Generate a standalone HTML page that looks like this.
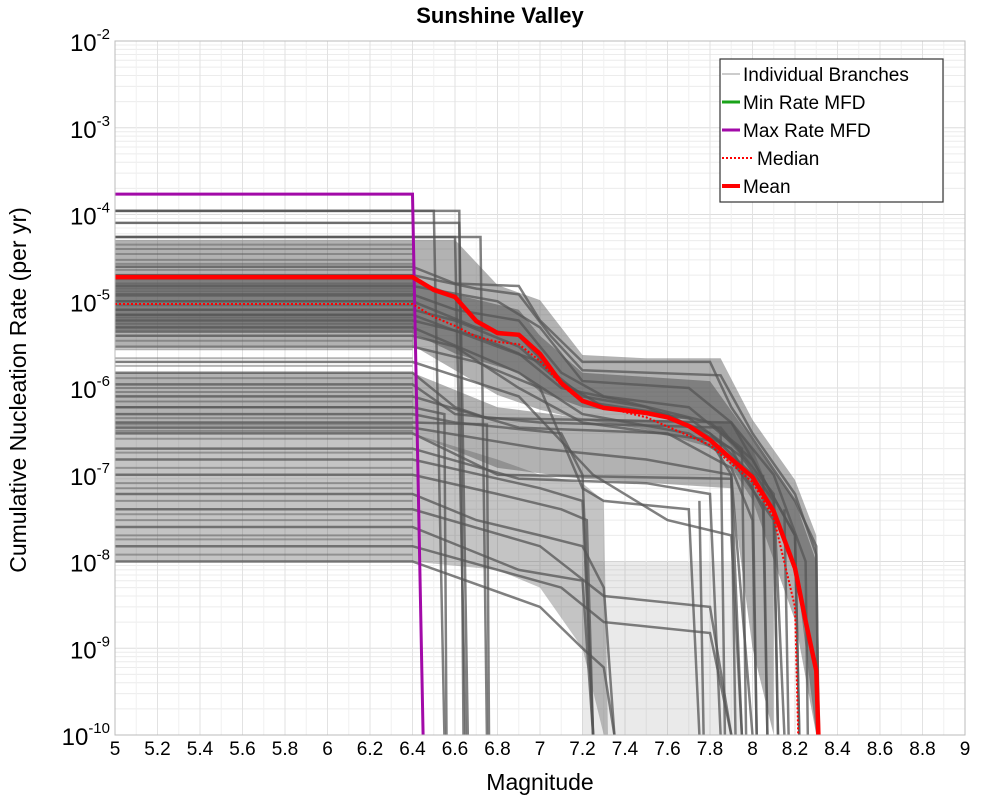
<!DOCTYPE html>
<html><head><meta charset="utf-8"><style>
body{margin:0;background:#fff;}
svg{display:block;font-family:"Liberation Sans","DejaVu Sans",sans-serif;}
</style></head><body>
<svg id="chart" width="1000" height="800" viewBox="0 0 1000 800">
<defs><clipPath id="plotclip"><rect x="115" y="41" width="850" height="694"/></clipPath></defs>
<rect x="0" y="0" width="1000" height="800" fill="#fff"/>
<text x="500" y="23" text-anchor="middle" font-size="22" font-weight="bold">Sunshine Valley</text>
<g id="grid"></g>
<g id="series" clip-path="url(#plotclip)"></g>
<rect x="115" y="41" width="850" height="694" fill="none" stroke="#bbb" stroke-width="1"/>
<g id="xticks"></g>
<g id="yticks"></g>
<text x="540" y="790" text-anchor="middle" font-size="23">Magnitude</text>
<text transform="translate(26,390) rotate(-90)" text-anchor="middle" font-size="23">Cumulative Nucleation Rate (per yr)</text>
<g>
<rect x="720" y="59" width="223" height="143" fill="#fff" stroke="#333" stroke-width="1.2"/>
<g><line x1="722" y1="74" x2="740" y2="74" stroke="#999" stroke-width="1"/><text x="743" y="81" font-size="19">Individual Branches</text></g>
<g><line x1="722" y1="102" x2="740" y2="102" stroke="#1aa31a" stroke-width="3"/><text x="743" y="109" font-size="19">Min Rate MFD</text></g>
<g><line x1="722" y1="130" x2="740" y2="130" stroke="#a20aa8" stroke-width="3"/><text x="743" y="137" font-size="19">Max Rate MFD</text></g>
<g><line x1="722" y1="158" x2="752" y2="158" stroke="#f00" stroke-width="2" stroke-dasharray="2,2"/><text x="757" y="165" font-size="19">Median</text></g>
<g><line x1="722" y1="186" x2="740" y2="186" stroke="#f00" stroke-width="4"/><text x="743" y="193" font-size="19">Mean</text></g>
</g>
</svg>
<script>
const xTicks=[5,5.2,5.4,5.6,5.8,6,6.2,6.4,6.6,6.8,7,7.2,7.4,7.6,7.8,8,8.2,8.4,8.6,8.8,9];
const yExps=[-2,-3,-4,-5,-6,-7,-8,-9,-10];
const meanMags=[5,6.4,6.5,6.6,6.7,6.8,6.9,7.0,7.1,7.2,7.3,7.5,7.6,7.7,7.8,7.9,8.0,8.1,8.2,8.25,8.3,8.31];
const meanRates=[1.9e-5,1.9e-5,1.35e-5,1.12e-5,5.9e-6,4.3e-6,4.1e-6,2.47e-6,1.14e-6,7.1e-7,5.9e-7,5.15e-7,4.6e-7,3.65e-7,2.52e-7,1.52e-7,9.4e-8,3.8e-8,8.4e-9,2.06e-9,5.5e-10,1e-10];
const medianMags=[5,6.4,6.5,6.6,6.7,6.8,6.9,7.0,7.1,7.2,7.5,7.8,8.0,8.1,8.2,8.215];
const medianRates=[9.3e-6,9.3e-6,6.6e-6,5.2e-6,3.9e-6,3.4e-6,3.2e-6,2.05e-6,1.08e-6,6.9e-7,4.6e-7,2.2e-7,8.2e-8,3.2e-8,3.0e-9,1e-10];
const maxMags=[5,6.4,6.45];
const maxRates=[1.72e-4,1.72e-4,1e-10];
// envelope bands of the branch mass
const mainBandMags=[5,6.4,6.6,6.8,7.0,7.2,7.5,7.85,8.0,8.2,8.3,8.32];
const mainBandHi=[5.1e-5,5.1e-5,5.1e-5,1.54e-5,1.03e-5,2.4e-6,2.2e-6,2.2e-6,4.3e-7,8.7e-8,2.0e-8,1e-10];
const mainBandLo=[3.1e-6,3.1e-6,1.6e-6,8.3e-7,5.6e-7,4.3e-7,3.3e-7,1.93e-7,5.1e-8,2.1e-9,1e-10,1e-10];
const coreBandMags=[5,6.4,6.6,6.9,7.0,7.2,7.8,8.0,8.2,8.3];
const coreBandHi=[1.8e-5,1.8e-5,1.2e-5,8e-6,4e-6,1.5e-6,1.2e-6,2.5e-7,5e-8,1e-8];
const coreBandLo=[4.3e-6,4.3e-6,2.5e-6,1.5e-6,9e-7,6e-7,4e-7,1.2e-7,1e-8,1e-10];
const midBandMags=[5,6.4,6.8,7.2,7.9,8.0,8.1];
const midBandHi=[1.5e-6,1.5e-6,6e-7,4.5e-7,4e-7,2e-7,5e-8];
const midBandLo=[3e-7,3e-7,1.2e-7,9e-8,7e-8,1e-9,1e-10];
const lowBandMags=[5,6.4,6.8,7.0,7.2,7.3,7.32];
const lowBandHi=[3e-7,3e-7,1.5e-7,1e-7,8e-8,5e-8,1e-10];
const lowBandLo=[1e-8,1e-8,8e-9,5e-9,1e-9,1e-10,1e-10];
const faintBandMags=[7.2,7.5,7.9,7.95];
const faintBandHi=[1e-8,1e-8,1e-8,1e-10];
const faintBandLo=[1e-10,1e-10,1e-10,1e-10];
const flatLevels=[1.1e-4,8e-5,5.5e-5,4.5e-5,4e-5,3.5e-5,3e-5,2.7e-5,2.3e-5,2e-5,1.8e-5,1.6e-5,1.4e-5,1.3e-5,1.15e-5,1e-5,9e-6,8e-6,7e-6,6.5e-6,5.5e-6,4.5e-6,3.5e-6,2.8e-6,2.2e-6,1.8e-6,1.3e-6,1e-6,9e-7,7e-7,6e-7,4.5e-7,3.8e-7,3.2e-7,2.6e-7,1.8e-7,1.2e-7,8e-8,7e-8,5e-8,3.5e-8,3e-8,2e-8,1.8e-8,1.2e-8];
const branches=[
[[5,1.1e-4],[6.62,1.1e-4],[6.64,1e-10]],
[[5,1.1e-4],[6.5,1.1e-4],[6.55,1e-10]],
[[5,8e-5],[6.62,8e-5],[6.66,1e-10]],
[[5,5.5e-5],[6.72,5.5e-5],[6.75,1e-10]],
[[5,5.5e-5],[6.6,5.5e-5],[6.65,1e-10]],
[[5,2.5e-5],[6.4,2.5e-5],[6.6,1.6e-5],[6.9,1.5e-5],[7.0,6e-6],[7.2,2e-6],[7.8,2e-6],[7.9,6e-7],[8.2,5e-8],[8.3,1.5e-8],[8.31,1e-10]],
[[5,2e-5],[6.4,2e-5],[6.7,1.4e-5],[6.9,1.2e-5],[7.05,4e-6],[7.2,1.6e-6],[7.85,1.4e-6],[8.0,3e-7],[8.2,6e-8],[8.3,1.2e-8],[8.31,1e-10]],
[[5,1.5e-5],[6.4,1.5e-5],[6.8,1e-5],[7.0,5e-6],[7.2,1.2e-6],[7.7,1e-6],[7.9,4e-7],[8.1,1e-7],[8.25,1e-8],[8.26,1e-10]],
[[5,1.2e-5],[6.4,1.2e-5],[6.6,8e-6],[6.9,6e-6],[7.1,1.5e-6],[7.3,8e-7],[7.7,6e-7],[8.0,1.5e-7],[8.2,2e-8],[8.22,1e-10]],
[[5,1e-5],[6.4,1e-5],[6.7,5e-6],[6.9,4e-6],[7.1,1.2e-6],[7.3,6e-7],[7.7,4.5e-7],[7.95,1.6e-7],[8.1,5e-8],[8.12,1e-10]],
[[5,8e-6],[6.4,8e-6],[6.6,6e-6],[6.9,3e-6],[7.2,7e-7],[7.6,5e-7],[7.9,2e-7],[8.05,4e-8],[8.07,1e-10]],
[[5,7e-6],[6.4,7e-6],[6.8,3e-6],[7.0,2e-6],[7.2,8e-7],[7.5,6e-7],[7.8,3e-7],[8.0,1e-7],[8.02,1e-10]],
[[5,6e-6],[6.4,6e-6],[6.7,4e-6],[6.9,2.5e-6],[7.1,1e-6],[7.4,7e-7],[7.8,4e-7],[7.95,2e-7],[7.97,1e-10]],
[[5,5e-6],[6.4,5e-6],[6.9,1.5e-6],[7.2,5e-7],[7.7,3e-7],[7.9,1.5e-7],[8.1,3e-8],[8.12,1e-10]],
[[5,4e-6],[6.4,4e-6],[6.6,3e-6],[6.9,1e-6],[7.2,4e-7],[7.8,2.5e-7],[7.9,1e-7],[7.92,1e-10]],
[[5,1.5e-6],[6.4,1.5e-6],[6.6,6e-7],[6.75,4.5e-7],[7.9,4e-7],[8.0,1.5e-7],[8.2,2e-8],[8.22,1e-10]],
[[5,1.1e-6],[6.4,1.1e-6],[6.6,5e-7],[7.0,4e-7],[7.85,3.5e-7],[8.1,6e-8],[8.15,1e-10]],
[[5,8e-7],[6.4,8e-7],[6.9,3.5e-7],[7.6,3e-7],[7.9,1.2e-7],[8.0,3e-8],[8.02,1e-10]],
[[5,5e-7],[6.4,5e-7],[6.6,4e-7],[7.1,3e-7],[7.2,1e-7],[7.25,1e-10]],
[[5,4e-7],[6.4,4e-7],[6.75,3.8e-7],[6.76,1e-10]],
[[5,3.5e-7],[6.4,3.5e-7],[7.0,2e-7],[7.5,1.5e-7],[7.9,1e-7],[8.0,1e-10]],
[[5,3e-7],[6.4,3e-7],[6.8,1e-7],[7.9,9e-8],[7.95,1e-10]],
[[5,2e-7],[6.4,2e-7],[6.9,9e-8],[7.5,8e-8],[7.8,6e-8],[7.85,1e-10]],
[[5,1.5e-7],[6.4,1.5e-7],[7.0,7e-8],[7.2,5e-8],[7.25,1e-10]],
[[5,1e-7],[6.4,1e-7],[6.8,6e-8],[7.1,4e-8],[7.22,3e-8],[7.25,1e-10]],
[[5,6e-8],[6.4,6e-8],[6.7,3e-8],[7.0,2e-8],[7.2,1.5e-8],[7.3,5e-9],[7.35,1e-10]],
[[5,4e-8],[6.4,4e-8],[7.0,1.5e-8],[7.3,4e-9],[7.8,3e-9],[7.9,1e-10]],
[[5,2.5e-8],[6.4,2.5e-8],[6.9,8e-9],[7.2,6e-9],[7.25,1e-10]],
[[5,1.5e-8],[6.4,1.5e-8],[7.1,5e-9],[7.3,2e-9],[7.8,1.5e-9],[7.9,1e-10]],
[[5,1e-8],[6.4,1e-8],[7.0,3e-9],[7.2,1e-9],[7.3,6e-10],[7.35,1e-10]],
[[5,6e-7],[6.4,6e-7],[6.55,5e-7],[6.56,1e-10]],
[[5,3e-6],[6.4,3e-6],[6.7,2e-6],[7.0,1e-6],[7.2,7e-8],[7.3,5e-8],[7.7,4e-8],[7.75,1e-10]],
[[5,2e-6],[6.4,2e-6],[6.9,8e-7],[7.25,1e-7],[7.6,3e-8],[7.9,2e-8],[7.95,1e-10]],
[[7.85,3e-7],[7.87,1e-10]],
[[8.05,1e-7],[8.07,1e-10]],
[[8.15,4e-8],[8.17,1e-10]],
[[7.75,5e-8],[7.77,1e-10]]
];
const NS='http://www.w3.org/2000/svg';
const X0=115,X1=965,Y0=41,DEC=86.75;
function xs(m){return X0+(m-5)*(X1-X0)/4;}
function ys(r){return Y0+(-2-Math.log10(Math.max(r,1e-10)))*DEC;}
function mk(tag,attrs,parent){const e=document.createElementNS(NS,tag);for(const k in attrs)e.setAttribute(k,attrs[k]);parent.appendChild(e);return e;}
const grid=document.getElementById('grid');
for(let e=-3;e>=-10;e--){for(let k=1;k<10;k++){const y=ys(k*Math.pow(10,e));if(y<Y0-0.5)continue;
const l=mk('line',{x1:X0,x2:X1,y1:y,y2:y,stroke:k===1?'#ddd':'#ececec','stroke-width':1},grid);

}}
for(let i=0;i<=40;i++){const m=5+i*0.1;const x=xs(m);
const l=mk('line',{x1:x,x2:x,y1:Y0,y2:735,stroke:i%2===0?'#e2e2e2':'#f0f0f0','stroke-width':1},grid);

}
const xt=document.getElementById('xticks');
xTicks.forEach(m=>{const t=mk('text',{x:xs(m),y:755,'text-anchor':'middle','font-size':19},xt);t.textContent=String(m);

});
const yt=document.getElementById('yticks');
yExps.forEach(e=>{const y=ys(Math.pow(10,e));const t=mk('text',{x:110,y:y+10,'text-anchor':'end','font-size':24},yt);


const a=document.createElementNS(NS,'tspan');a.textContent='10';t.appendChild(a);
const b=document.createElementNS(NS,'tspan');b.setAttribute('dy','-12');b.setAttribute('font-size','15');b.textContent=String(e);t.appendChild(b);});
const S=document.getElementById('series');
function pathD(ms,rs){return ms.map((m,i)=>(i?'L':'M')+xs(m).toFixed(1)+','+ys(rs[i]).toFixed(1)).join('');}
function band(ms,hi,lo,op,name){
 let d=pathD(ms,hi);
 for(let i=ms.length-1;i>=0;i--)d+='L'+xs(ms[i]).toFixed(1)+','+ys(lo[i]).toFixed(1);
 const p=mk('path',{d:d+'Z',fill:'#555','fill-opacity':op,stroke:'none'},S);
 
 
}
band(faintBandMags,faintBandHi,faintBandLo,0.12,'branch-band-faint');
band(lowBandMags,lowBandHi,lowBandLo,0.35,'branch-band-low');
band(mainBandMags,mainBandHi,mainBandLo,0.45,'branch-band-main');
band(midBandMags,midBandHi,midBandLo,0.45,'branch-band-mid');
band(coreBandMags,coreBandHi,coreBandLo,0.55,'branch-band-core');
flatLevels.forEach(r=>{const l=mk('line',{x1:xs(5),x2:xs(6.4),y1:ys(r),y2:ys(r),stroke:'#555','stroke-width':2,'stroke-opacity':0.45},S);

});
branches.forEach(b=>{const p=mk('path',{d:pathD(b.map(q=>q[0]),b.map(q=>q[1])),fill:'none',stroke:'#555','stroke-width':2.5,'stroke-opacity':0.75},S);

});
const mx=mk('path',{d:pathD(maxMags,maxRates),fill:'none',stroke:'#a20aa8','stroke-width':3},S);


const md=mk('path',{d:pathD(medianMags,medianRates),fill:'none',stroke:'#f00','stroke-width':2,'stroke-dasharray':'2,2'},S);


const mn=mk('path',{d:pathD(meanMags,meanRates),fill:'none',stroke:'#f00','stroke-width':4.5},S);


</script>
</body></html>
